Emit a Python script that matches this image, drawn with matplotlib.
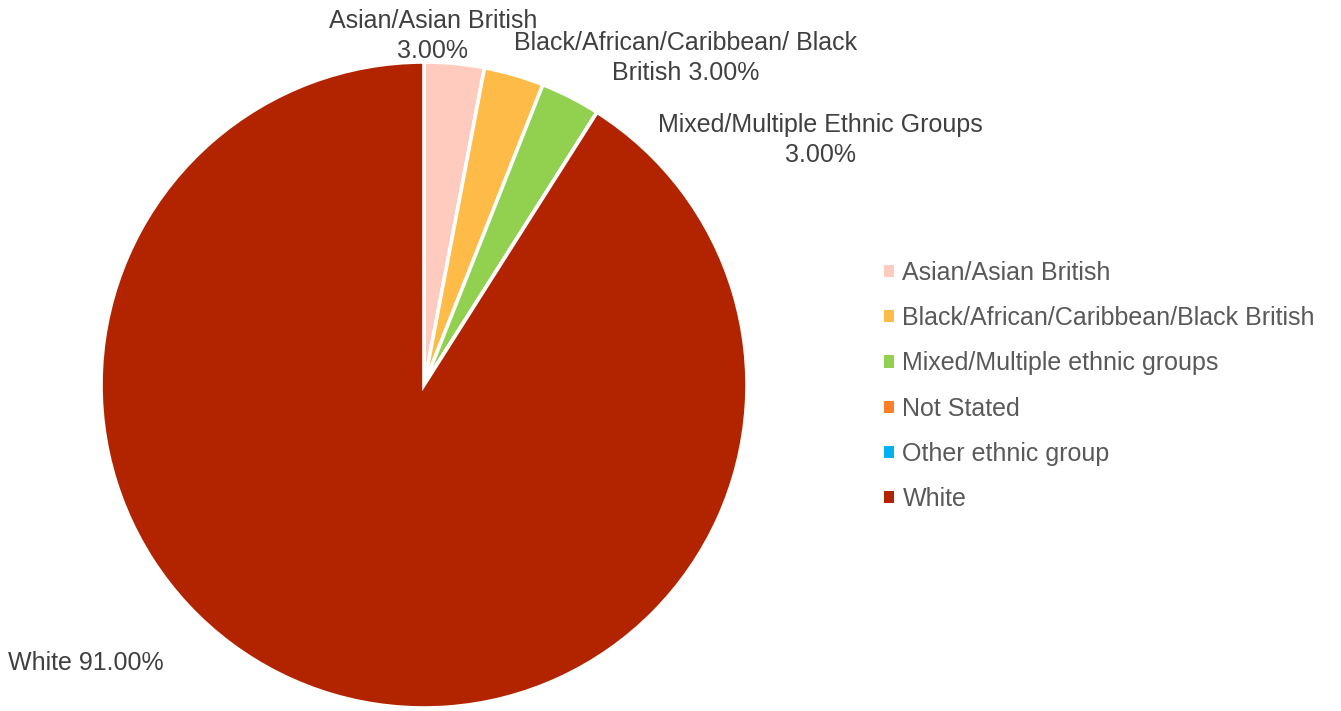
import matplotlib
matplotlib.use("Agg")
import matplotlib.pyplot as plt
from matplotlib.patches import Patch

plt.rcParams["font.family"] = ["Liberation Sans", "DejaVu Sans"]

# Ethnicity breakdown (percent)
categories = ["Asian/Asian British", "Black/African/Caribbean/Black British",
              "Mixed/Multiple ethnic groups", "Not Stated",
              "Other ethnic group", "White"]
values = [3.0, 3.0, 3.0, 0.0, 0.0, 91.0]
colors = ["#FFCBBE", "#FFBB47", "#92D050", "#FF7F27", "#00B0F0", "#B22400"]

# Names shown next to the slices
label_names = ["Asian/Asian British", "Black/African/Caribbean/ Black\nBritish",
               "Mixed/Multiple Ethnic Groups", None, None, "White"]

W, H = 1341, 711
fig = plt.figure(figsize=(W / 100, H / 100), dpi=100)

cx, cy, r = 424, 385, 323
ax = fig.add_axes([(cx - r) / W, (H - cy - r) / H, 2 * r / W, 2 * r / H])
wedges, _ = ax.pie(values, colors=colors, startangle=90, counterclock=False,
                   radius=1.0,
                   wedgeprops=dict(edgecolor="white", linewidth=2.6))
ax.set_xlim(-1, 1)
ax.set_ylim(-1, 1)
ax.set_aspect("auto")
ax.axis("off")

# Data labels
lab_color = "#404040"
fs = 18
asian = f"{label_names[0]}\n{values[0]:.2f}%"
black = f"{label_names[1]} {values[1]:.2f}%"
mixed = f"{label_names[2]}\n{values[2]:.2f}%"
white = f"{label_names[5]} {values[5]:.2f}%"

def ftext(px, py, s, ha="center"):
    fig.text(px / W, 1 - py / H, s, ha=ha, va="center", fontsize=fs,
             color=lab_color, linespacing=1.3, multialignment="center")

ftext(433, 36, asian)
ftext(686, 58, black)
ftext(820, 140, mixed)
ftext(8, 663, white, ha="left")

# Legend
handles = [Patch(facecolor=c, edgecolor="none") for c in colors]
leg = fig.legend(handles, categories, loc="upper left",
                 bbox_to_anchor=(884 / W, 1 - 261 / H),
                 frameon=False, fontsize=fs, labelcolor="#595959",
                 handlelength=0.38, handleheight=0.38, handletextpad=0.36,
                 labelspacing=0.85, borderaxespad=0, borderpad=0)

fig.savefig("out.png", dpi=100, facecolor="white")
